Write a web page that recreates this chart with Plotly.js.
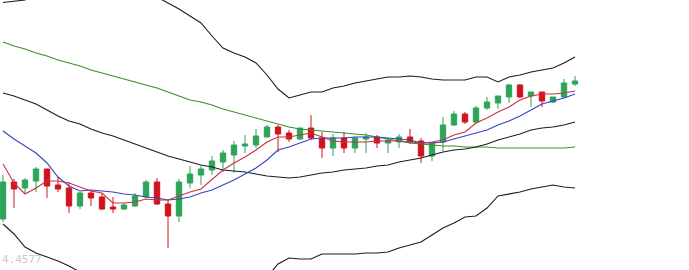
<!DOCTYPE html>
<html>
<head>
<meta charset="utf-8">
<script src="https://cdn.plot.ly/plotly-3.0.1.min.js"></script>
<style>html,body{margin:0;padding:0;background:#fff;}#chart{width:689px;height:270px;}</style>
</head>
<body>
<div id="chart"></div>
<script>
// Candle data (arbitrary price units)
const openV  = [51,88,82,89,101,85,82,64,77,73,63,61,64,73,88,66,54,87,95,100,108,115,124,125,133,143,137,131,142,132,122,132,122,131,133,127,128,133,129,114,128,145,156,148,162,167,173,185,174,178,168,173,186];
const highV  = [95,91,92,103,101,93,88,78,79,77,73,67,77,90,92,71,91,104,104,114,120,129,135,141,145,145,140,142,155,138,136,138,133,137,135,132,136,141,132,128,153,159,158,164,173,174,186,186,178,178,173,191,194];
const lowV   = [48,62,77,78,72,78,57,61,64,60,57,60,63,72,65,22,48,82,85,95,98,97,117,122,133,118,128,130,130,112,114,117,117,117,122,117,122,126,107,109,119,144,146,147,160,161,167,172,163,163,167,172,184];
const closeV = [88,81,90,101,84,81,64,77,72,61,61,65,74,88,66,54,88,96,101,109,117,125,126,134,143,136,131,142,132,122,132,122,132,133,127,130,133,128,114,127,145,156,148,162,168,174,185,173,178,169,173,187,189];

// Indicator lines
const bollUpper = [267.5,268.5,270,278,284,288,291,294,294,294,294,290,286,280,273,267,261,254,247,234,222,217,213,207,195,181,172,175,178,178,182,184,187,189,191,193,193,194,193,191,190,190,190,193,193,188,193,195,198,200,202,207,213];
const bollMid   = [177,174,170,166,160,154,149,146,141,137,134,130,126,122,118,114,111,108,105,103,100,99,98,96,94,93,92,93,95,97,98,100,101,102,104,105,108,110,112,115,118,120,121,123,126,130,133,136,140,142,143,145,148];
const bollLower = [46,36,23,17,13,9,4,-2,-12,-20,-26,-30,-34,-36,-37,-39,-39,-38,-37,-28,-22,-19,-17,-15,-7,6,12,11,11,16,16,16,16,17,17,18,22,25,28,35,42,47,53,54,62,74,76,78,81,83,85,83,82];
const maLong    = [228,224,221,217,214,210,207,204,200,197,194,191,188,185,182,178,174,170,168,165,161,158,155,152,149,146,143,141,140,139,138,137,136,135,133,131,129,127,126,125,124,124,123,123,123,122,122,122,122,122,122,122,123];
const maShort   = [106,87,76,82,89,89,87,83,79,77,67,67,68,71,70,70,74,78,81,91,100,107,113,120,128,133,133,135,137,133,129,128,128,128,129,129,129,128,127,128,130,135,138,147,152,158,163,170,174,176,176,177,179];
const maMid     = [139,131,124,117,107,93,84,79,80,79,78,76,75,73,72,70,71,73,77,80,85,90,96,102,110,120,123,127,131,132,132,132,133,133,133,132,131,130,127,127,128,131,134,137,140,145,149,154,160,166,169,172,176];

const priceLabel = '4.4577';

const xs = openV.map((_, i) => i);

const line = (y, color, w) => ({
  type: 'scatter', mode: 'lines', x: xs, y: y,
  line: {color: color, width: w}, hoverinfo: 'skip', showlegend: false
});

const traces = [
  line(maLong, '#3a8f26', 1.1),
  line(bollUpper, '#1c1c1c', 1.1),
  line(bollMid, '#1c1c1c', 1.1),
  line(bollLower, '#1c1c1c', 1.1),
  {
    type: 'candlestick', x: xs, open: openV, high: highV, low: lowV, close: closeV,
    increasing: {line: {color: '#2ca55a', width: 1}, fillcolor: '#2ca55a'},
    decreasing: {line: {color: '#d0141c', width: 1}, fillcolor: '#d0141c'},
    whiskerwidth: 0, showlegend: false, hoverinfo: 'skip'
  },
  line(maMid, '#3445c0', 1.1),
  line(maShort, '#c9313f', 1.1)
];

const layout = {
  width: 689, height: 270,
  margin: {l: 0, r: 0, t: 0, b: 0, pad: 0},
  paper_bgcolor: '#ffffff', plot_bgcolor: '#ffffff',
  showlegend: false, hovermode: false,
  xaxis: {range: [-3/11, 686/11], visible: false, rangeslider: {visible: false}, fixedrange: true},
  yaxis: {range: [0, 270], visible: false, fixedrange: true},
  annotations: [{
    text: priceLabel, xref: 'paper', x: 0, xanchor: 'left', xshift: 0,
    yref: 'y', y: 11, yanchor: 'middle', showarrow: false,
    font: {family: 'DejaVu Sans Mono', size: 11, color: '#c8c8c8'}
  }]
};

Plotly.newPlot('chart', traces, layout, {staticPlot: true, displayModeBar: false});
</script>
</body>
</html>
